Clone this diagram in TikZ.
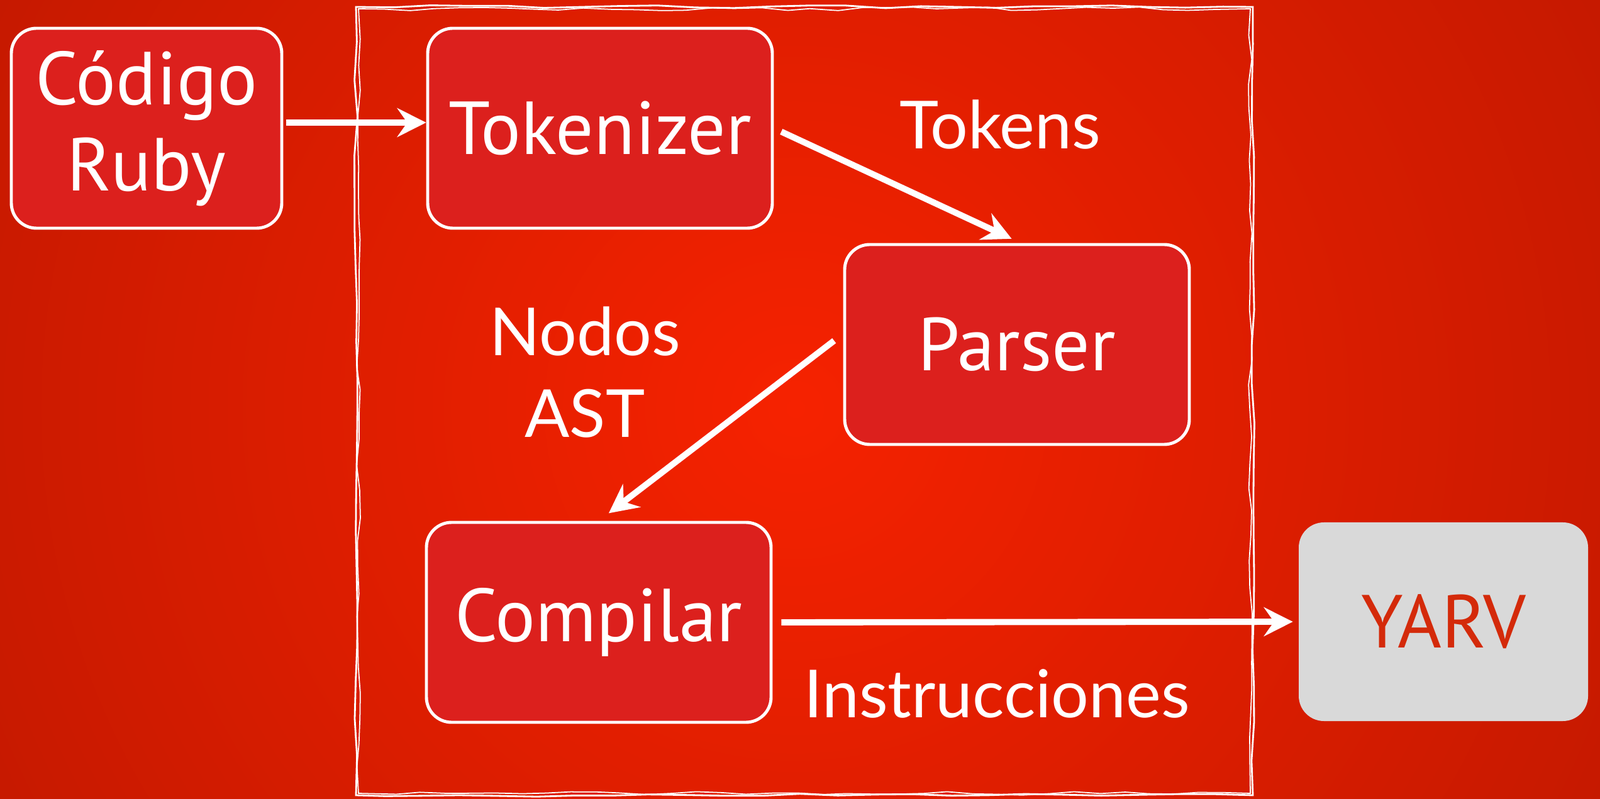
\documentclass[tikz,border=0pt]{standalone}
\usepackage{fontspec}
\setmainfont{Lato}
\newfontfamily\boxfont{PT Sans}
\usetikzlibrary{arrows.meta,decorations.pathmorphing}

\definecolor{bgin}{RGB}{246,34,0}
\definecolor{bgout}{RGB}{165,19,0}
\definecolor{cajared}{RGB}{220,32,29}
\definecolor{cajagris}{RGB}{217,217,217}
\definecolor{letrared}{RGB}{212,42,10}

\begin{document}
\begin{tikzpicture}[thick,
  main/.style = {draw=white, line width=1.4pt, fill=cajared, rounded corners=4mm,
    minimum width=5.48cm, minimum height=3.18cm, text=white, align=center,
    font=\boxfont\fontsize{34}{39}\selectfont},
  vm/.style = {fill=cajagris, rounded corners=4mm, minimum width=4.6cm,
    minimum height=3.16cm, text=letrared, font=\boxfont\fontsize{34}{39}\selectfont},
  lbl/.style = {text=white, align=center, font=\fontsize{30}{37}\selectfont},
  flecha/.style = {white, line width=2.8pt, -{Stealth[length=4.6mm,width=4.6mm,inset=1.6mm]}}]
\useasboundingbox (0,0) rectangle (25.44,12.70);
% fondo
\begin{scope}
\clip (0,0) rectangle (25.44,12.70);
\shade[inner color=bgin, outer color=bgout] (12.65,6.2) circle (24cm);
\end{scope}
% marco a mano
\draw[white, line width=0.8pt, decorate, decoration={random steps, segment length=6mm, amplitude=0.25mm}]
  (5.66,0.05) rectangle (19.92,12.59);
\draw[white, line width=0.5pt, decorate, decoration={random steps, segment length=4mm, amplitude=0.3mm}]
  (5.70,0.08) rectangle (19.88,12.56);

\node[main, minimum width=4.3cm] (codigo) at (2.33,10.66) {Código\\Ruby};
\node[main] (tokenizer) at (9.54,10.66) {Tokenizer};
\node[main] (parser) at (16.17,7.22) {Parser};
\node[main] (compilar) at (9.52,2.80) {Compilar};
\node[vm] (yarv) at (22.95,2.81) {YARV};

\node[lbl] (tokens) at (15.90,10.72) {Tokens};
\node[lbl] (nodos) at (9.30,6.78) {Nodos\\AST};
\node[lbl] (instr) at (15.85,1.67) {Instrucciones};

\draw[flecha, shorten <=0.5mm] ([yshift=0.9mm]codigo.east) -- ([yshift=0.9mm]tokenizer.west);
\draw[flecha, shorten <=1.3mm, shorten >=1.6mm] (tokenizer.east) -- ([xshift=0.6mm]parser.north);
\draw[flecha, shorten <=1.8mm, shorten >=2mm] ([yshift=1.7mm]parser.west) -- (compilar.north);
\draw[flecha, shorten <=1.4mm, shorten >=0.8mm] (compilar.east) -- (yarv.west);
\end{tikzpicture}
\end{document}
